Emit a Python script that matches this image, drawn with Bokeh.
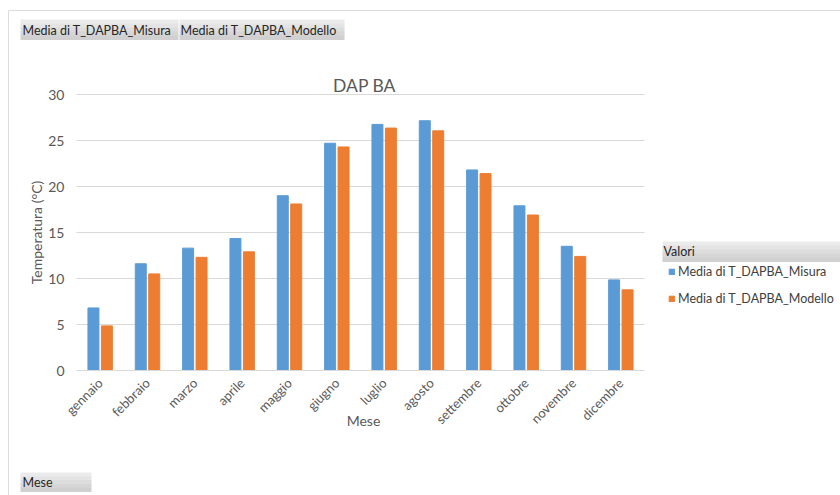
from bokeh.plotting import figure
from bokeh.models import (ColumnDataSource, Range1d, Label, BoxAnnotation,
                          Legend, LegendItem, LinearAxis, FixedTicker)
from bokeh.transform import dodge
from bokeh.embed import file_html
from bokeh.resources import INLINE
import math

# ---------------- data ----------------
months = ["gennaio", "febbraio", "marzo", "aprile", "maggio", "giugno",
          "luglio", "agosto", "settembre", "ottobre", "novembre", "dicembre"]
misura = [6.8, 11.6, 13.3, 14.35, 19.0, 24.7, 26.75, 27.15, 21.8, 17.9, 13.5, 9.85]
modello = [4.85, 10.5, 12.3, 12.9, 18.1, 24.3, 26.35, 26.05, 21.4, 16.9, 12.4, 8.77]
y_ticks = [0, 5, 10, 15, 20, 25, 30]
series_names = ["Media di T_DAPBA_Misura", "Media di T_DAPBA_Modello"]
title_text = "DAP BA"
x_title = "Mese"
y_title = "Temperatura (°C)"
legend_title = "Valori"

BLUE = "#5B9BD5"
ORANGE = "#ED7D31"
GRID = "#D9D9D9"
TXT = "#595959"
FONT = "Lato"

W, H = 840, 495
# plot area in pixels (left, right, top, bottom)
PL, PR, PT, PB = 76, 644, 94, 370
n = len(months)
ymax = y_ticks[-1]
kx = (PR - PL) / n
ky = (PB - PT) / ymax

centers = [i + 0.5 for i in range(n)]
src = ColumnDataSource(dict(x=centers, month=months, misura=misura, modello=modello))

p = figure(width=W, height=H, output_backend="svg", toolbar_location=None,
           x_range=Range1d(-PL / kx, n + (W - PR) / kx),
           y_range=Range1d(-(H - PB) / ky, PB / ky),
           x_axis_location=None, y_axis_location=None, min_border=0)
p.outline_line_color = None
p.grid.visible = False
p.background_fill_color = "white"
p.border_fill_color = "white"

# gridlines across the plot area only
p.segment(x0=0, x1=n, y0=y_ticks[1:], y1=y_ticks[1:], line_color=GRID, line_width=1)

OFF = 0.142
BW = 0.232
r1 = p.vbar(x=dodge("x", -OFF), top="misura", width=BW, source=src,
            fill_color=BLUE, line_color=BLUE)
r2 = p.vbar(x=dodge("x", OFF), top="modello", width=BW, source=src,
            fill_color=ORANGE, line_color=ORANGE)

# y axis at x = 0
yaxis = LinearAxis(fixed_location=0, ticker=FixedTicker(ticks=y_ticks), bounds=(0, ymax))
yaxis.axis_line_color = None
yaxis.major_tick_line_color = None
yaxis.minor_tick_line_color = None
yaxis.major_tick_out = 0
yaxis.major_label_standoff = 12
yaxis.major_label_text_font = FONT
yaxis.major_label_text_font_size = "14px"
yaxis.major_label_text_color = TXT
yaxis.axis_label = y_title
yaxis.axis_label_text_font = FONT
yaxis.axis_label_text_font_size = "14px"
yaxis.axis_label_text_font_style = "normal"
yaxis.axis_label_text_color = TXT
yaxis.axis_label_standoff = 0
p.add_layout(yaxis, "left")

# x axis at y = 0
xaxis = LinearAxis(fixed_location=0, ticker=FixedTicker(ticks=centers), bounds=(0, n),
                   major_label_overrides={c: m for c, m in zip(centers, months)})
xaxis.axis_line_color = GRID
xaxis.major_tick_line_color = None
xaxis.minor_tick_line_color = None
xaxis.major_tick_out = 0
xaxis.major_label_orientation = math.pi / 4
xaxis.major_label_standoff = 10
xaxis.major_label_text_font = FONT
xaxis.major_label_text_font_size = "13px"
xaxis.major_label_text_color = TXT
p.add_layout(xaxis, "below")

def lab(text, px, py, size="12.5px", color=TXT, align="left"):
    p.add_layout(Label(x=px, y=H - py, x_units="screen", y_units="screen",
                       text=text, text_font=FONT, text_font_size=size,
                       text_color=color, text_align=align, text_baseline="middle"))

def box(l, r, t, b, fill=None, line=None):
    p.add_layout(BoxAnnotation(left=l, right=r, top=H - t, bottom=H - b,
                               left_units="screen", right_units="screen",
                               top_units="screen", bottom_units="screen",
                               fill_color=fill if fill else "white",
                               fill_alpha=1 if fill else 0,
                               line_color=line if line else "white",
                               line_alpha=1 if line else 0,
                               level="underlay"))

def button(l, r, t, b):
    # light grey vertical gradient, approximated by bands
    shades = ["#EBEBEB", "#E4E4E4", "#DDDDDD", "#D6D6D6", "#D0D0D0"]
    h = (b - t) / len(shades)
    for i, c in enumerate(shades):
        box(l, r, t + i * h, t + (i + 1) * h + 0.5, fill=c)

# outer frame
box(8, W + 50, 10, H + 50, line="#DCDCDC")

# title and x title
lab(title_text, 364, 85, size="17.5px", align="center")
lab(x_title, 363, 420, size="14px", align="center")

# field buttons (top)
button(20, 178, 19, 39)
button(179, 344, 19, 39)
lab(series_names[0], 22, 30, color="#262626")
lab(series_names[1], 180, 30, color="#262626")

# axis field button (bottom)
button(20, 91, 472, 491)
lab(x_title, 22, 482, color="#262626")

# legend header
button(662, W + 50, 241, 261)
lab(legend_title, 663, 251, color="#262626")

legend = Legend(items=[LegendItem(label=series_names[0], renderers=[r1]),
                       LegendItem(label=series_names[1], renderers=[r2])],
                location=(668, H - 308), orientation="vertical",
                padding=0, margin=0, spacing=7, glyph_width=7, glyph_height=7,
                label_height=20, label_standoff=3,
                label_text_font=FONT, label_text_font_size="12.5px",
                label_text_color="#404040",
                border_line_color=None, background_fill_alpha=0)
p.add_layout(legend, "center")

open("out.html", "w").write(file_html(p, INLINE))
